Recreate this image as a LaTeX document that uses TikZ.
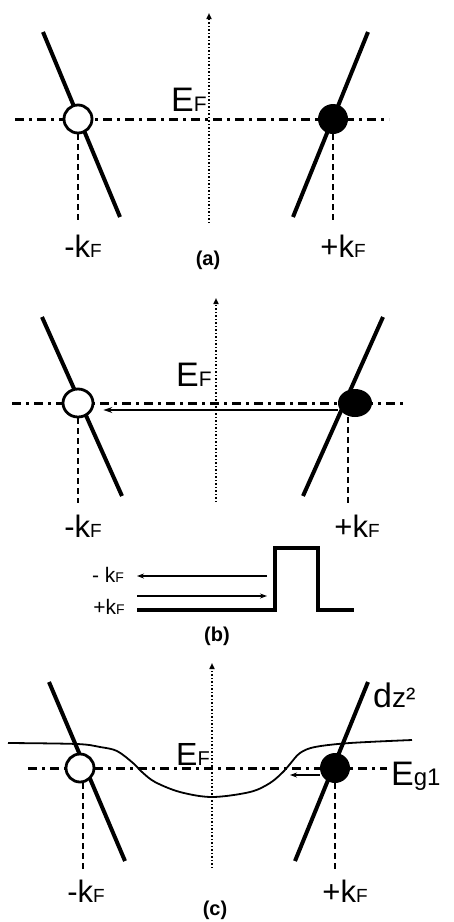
\documentclass[tikz,border=0pt]{standalone}
\usepackage{fontspec}
\setmainfont{Liberation Sans}
\usetikzlibrary{arrows.meta,shapes.geometric}
\newcommand{\lowsz}[2]{{\fontsize{#1}{#1}\selectfont #2}}

\begin{document}
\begin{tikzpicture}[x=1pt,y=-1pt,
  band/.style={line width=4pt},
  fermi/.style={line width=3pt,dash pattern=on 9pt off 5pt on 3pt off 5pt},
  kline/.style={line width=1.8pt,dash pattern=on 6pt off 4pt},
  axis/.style={line width=2pt,dash pattern=on 1.5pt off 2pt,
               -{Triangle[length=6pt,width=5pt]}},
  hole/.style={ellipse,draw,line width=2.8pt,fill=white,inner sep=0pt,
               minimum width=28pt,minimum height=28pt},
  elec/.style={ellipse,fill=black,inner sep=0pt,
               minimum width=30pt,minimum height=30pt},
  klabel/.style={anchor=base,inner sep=0pt,font=\fontsize{31}{31}\selectfont},
  elabel/.style={anchor=base,inner sep=0pt,font=\fontsize{34}{34}\selectfont},
  slabel/.style={anchor=base,inner sep=0pt,font=\fontsize{21}{21}\selectfont},
  panel/.style={anchor=base,inner sep=0pt,font=\fontsize{20}{20}\selectfont\bfseries},
  trans/.style={line width=2pt,-{Stealth[length=9pt,width=6pt]}},
  flow/.style={line width=1.4pt,-{Stealth[length=7pt,width=5pt]}},
  barrier/.style={line width=4pt}
]
\useasboundingbox (0,0) rectangle (453,922);

% (a)
\draw[axis] (209,223) -- (209,13);
\draw[fermi] (15,119) -- (389,119);
\draw[band] (43,32) -- (120,217);
\draw[band] (368,32) -- (293,217);
\node[hole] (holeA) at (78,119) {};
\node[elec] (elecA) at (333,119) {};
\coordinate (kmA) at (78,223);
\coordinate (kpA) at (333,223);
\draw[kline] (holeA.south) -- (kmA);
\draw[kline] (elecA.south) -- (kpA);
\node[elabel] (efA) at (189,111) {E\lowsz{21}{F}};
\node[klabel] (kmlA) at (83,257) {-k\lowsz{19}{F}};
\node[klabel] (kplA) at (343,257) {+k\lowsz{19}{F}};
\node[panel] (capA) at (208,265) {(a)};

% (b)
\draw[axis] (216,502) -- (216,298);
\draw[fermi] (12,403) -- (405,403);
\draw[band] (42,317) -- (122,496);
\draw[band] (383,317) -- (303,496);
\node[hole,minimum width=30pt] (holeB) at (78,403) {};
\node[elec,minimum width=34pt,minimum height=28pt] (elecB) at (355,403) {};
\draw[trans] ([yshift=-7pt]elecB.west) -- ([xshift=9pt,yshift=-7pt]holeB.east);
\coordinate (kmB) at (78,503);
\coordinate (kpB) at (348,503);
\draw[kline] (holeB.south) -- (kmB);
\draw[kline] (elecB.south -| kpB) -- (kpB);
\node[elabel] (efB) at (194,386) {E\lowsz{21}{F}};
\node[klabel] (kmlB) at (83,537) {-k\lowsz{19}{F}};
\node[klabel] (kplB) at (357,537) {+k\lowsz{19}{F}};
\draw[barrier] (137,610) -- (275,610) -- (275,548) -- (318,548) -- (318,610) -- (354,610);
\node[slabel] (mkB) at (108,582) {- k\lowsz{14}{F}};
\node[slabel] (pkB) at (109,614) {+k\lowsz{14}{F}};
\coordinate (outR) at (267,576);
\coordinate (outL) at (137,576);
\coordinate (inL) at (137,596);
\coordinate (inR) at (267,596);
\draw[flow] (outR) -- (outL);
\draw[flow] (inL) -- (inR);
\node[panel] (capB) at (217,641) {(b)};

% (c)
\draw[axis] (212,868) -- (212,663);
\draw[fermi] (28,768) -- (387,768);
\draw[band] (49,682) -- (125,861);
\draw[band] (368,682) -- (295,861);
\draw[line width=1.8pt] plot[smooth,tension=0.55] coordinates {
  (8,743) (77,744) (100,747) (117,751) (133,763) (142,772) (155,782)
  (180,792) (212,797) (250,792) (270,783) (283,772) (290,764) (300,753)
  (315,747) (350,743) (412,740)};
\node[hole] (holeC) at (80,768) {};
\node[elec] (elecC) at (335,768) {};
\coordinate (gapC) at (290,775);
\draw[flow] (elecC.west |- gapC) -- (gapC);
\coordinate (kmC) at (83,870);
\coordinate (kpC) at (335,870);
\draw[kline] (holeC.south -| kmC) -- (kmC);
\draw[kline] (elecC.south) -- (kpC);
\node[elabel,font=\fontsize{32}{32}\selectfont] (efC) at (193,765) {E\lowsz{20}{F}};
\node[elabel,anchor=base west] (dzC) at (373,707) {d\lowsz{28}{z²}};
\node[elabel,anchor=base west] (egC) at (391,785) {E\lowsz{24}{g1}};
\node[klabel] (kmlC) at (86,902) {-k\lowsz{19}{F}};
\node[klabel] (kplC) at (345,902) {+k\lowsz{19}{F}};
\node[panel] (capC) at (215,915) {(c)};
\end{tikzpicture}
\end{document}
